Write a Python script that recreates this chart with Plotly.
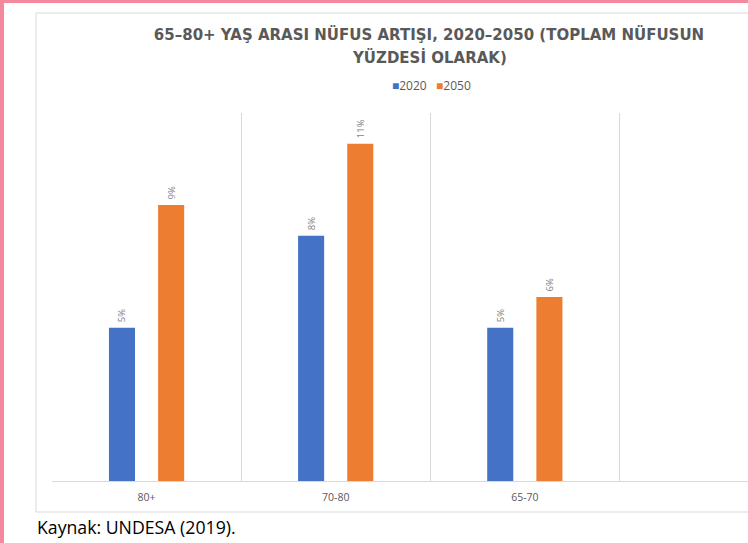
import plotly.graph_objects as go

categories = ["80+", "70-80", "65-70"]
series_names = ["2020", "2050"]
values_2020 = [5, 8, 5]
values_2050 = [9, 11, 6]
title_line1 = "65–80+ YAŞ ARASI NÜFUS ARTIŞI, 2020–2050 (TOPLAM NÜFUSUN"
title_line2 = "YÜZDESİ OLARAK)"
caption_text = "Kaynak: UNDESA (2019)."

W, H = 748, 543
L, R, T, B = 52, 0, 113, 62
PW, PH = W - L - R, H - T - B

def px_x(px):
    return (px - L) / PW

def px_y(py):
    return (H - B - py) / PH

blue = "#4472C4"
orange = "#ED7D31"
colors = [blue, orange]
gray_txt = "#595959"
title_font = dict(family="DejaVu Sans", size=15, color=gray_txt, weight="bold")

xpos = list(range(len(categories)))

fig = go.Figure()
for name, vals, col in [(series_names[0], values_2020, blue), (series_names[1], values_2050, orange)]:
    fig.add_trace(go.Bar(
        x=xpos, y=vals, name=name, marker=dict(color=col, line=dict(width=0)),
        text=[f"\u00a0{v}%" for v in vals], textposition="outside", textangle=-90,
        textfont=dict(size=9.5, color="#7f7f7f", family="Open Sans"),
        cliponaxis=False, hoverinfo="skip", showlegend=False,
    ))

legend_text = "&nbsp;&nbsp;&nbsp;".join(
    f"<span style='color:{c}'>■</span>{n}" for n, c in zip(series_names, colors)
)

fig.update_layout(
    width=W, height=H,
    margin=dict(l=L, r=R, t=T, b=B, pad=0),
    paper_bgcolor="white", plot_bgcolor="white",
    barmode="group", bargap=0.48, bargroupgap=0.47,
    title=dict(text=title_line1, x=429 / W, xanchor="center", y=1 - 35 / H, yanchor="middle",
               font=title_font),
    xaxis=dict(range=[-0.5, 3.18], tickvals=xpos, ticktext=categories, showgrid=False,
               zeroline=False, showline=True, linecolor="#d9d9d9", linewidth=1, ticks="",
               ticklabelstandoff=6,
               tickfont=dict(family="Open Sans", size=10.5, color=gray_txt),
               minor=dict(tick0=0.5, dtick=1, showgrid=True, gridcolor="#d9d9d9", gridwidth=1, ticks="")),
    yaxis=dict(range=[0, 12], visible=False, showgrid=False, zeroline=False),
    shapes=[
        dict(type="rect", xref="paper", yref="paper", x0=px_x(36), x1=px_x(760), y0=px_y(512), y1=px_y(13),
             line=dict(color="#d9d9d9", width=1), fillcolor="rgba(0,0,0,0)", layer="below"),
        dict(type="rect", xref="paper", yref="paper", x0=px_x(0), x1=px_x(4), y0=px_y(H), y1=px_y(0),
             line=dict(width=0), fillcolor="#F2899C", layer="above"),
        dict(type="rect", xref="paper", yref="paper", x0=px_x(0), x1=px_x(W), y0=px_y(3), y1=px_y(0),
             line=dict(width=0), fillcolor="#F2899C", layer="above"),
    ],
    annotations=[
        dict(text=title_line2, xref="paper", yref="paper", x=px_x(429), y=px_y(57), xanchor="center",
             yanchor="middle", showarrow=False, font=title_font),
        dict(text=legend_text, xref="paper", yref="paper", x=px_x(431), y=px_y(86), xanchor="center",
             yanchor="middle", showarrow=False, font=dict(family="Open Sans", size=12, color=gray_txt)),
        dict(text=caption_text, xref="paper", yref="paper", x=px_x(35), y=px_y(527), xanchor="left",
             yanchor="middle", showarrow=False, font=dict(family="Open Sans", size=17.7, color="#000000")),
    ],
)

fig.write_html("out.html", config={"displayModeBar": False},
               post_script="document.body.style.margin='0';document.body.style.overflow='hidden';")
